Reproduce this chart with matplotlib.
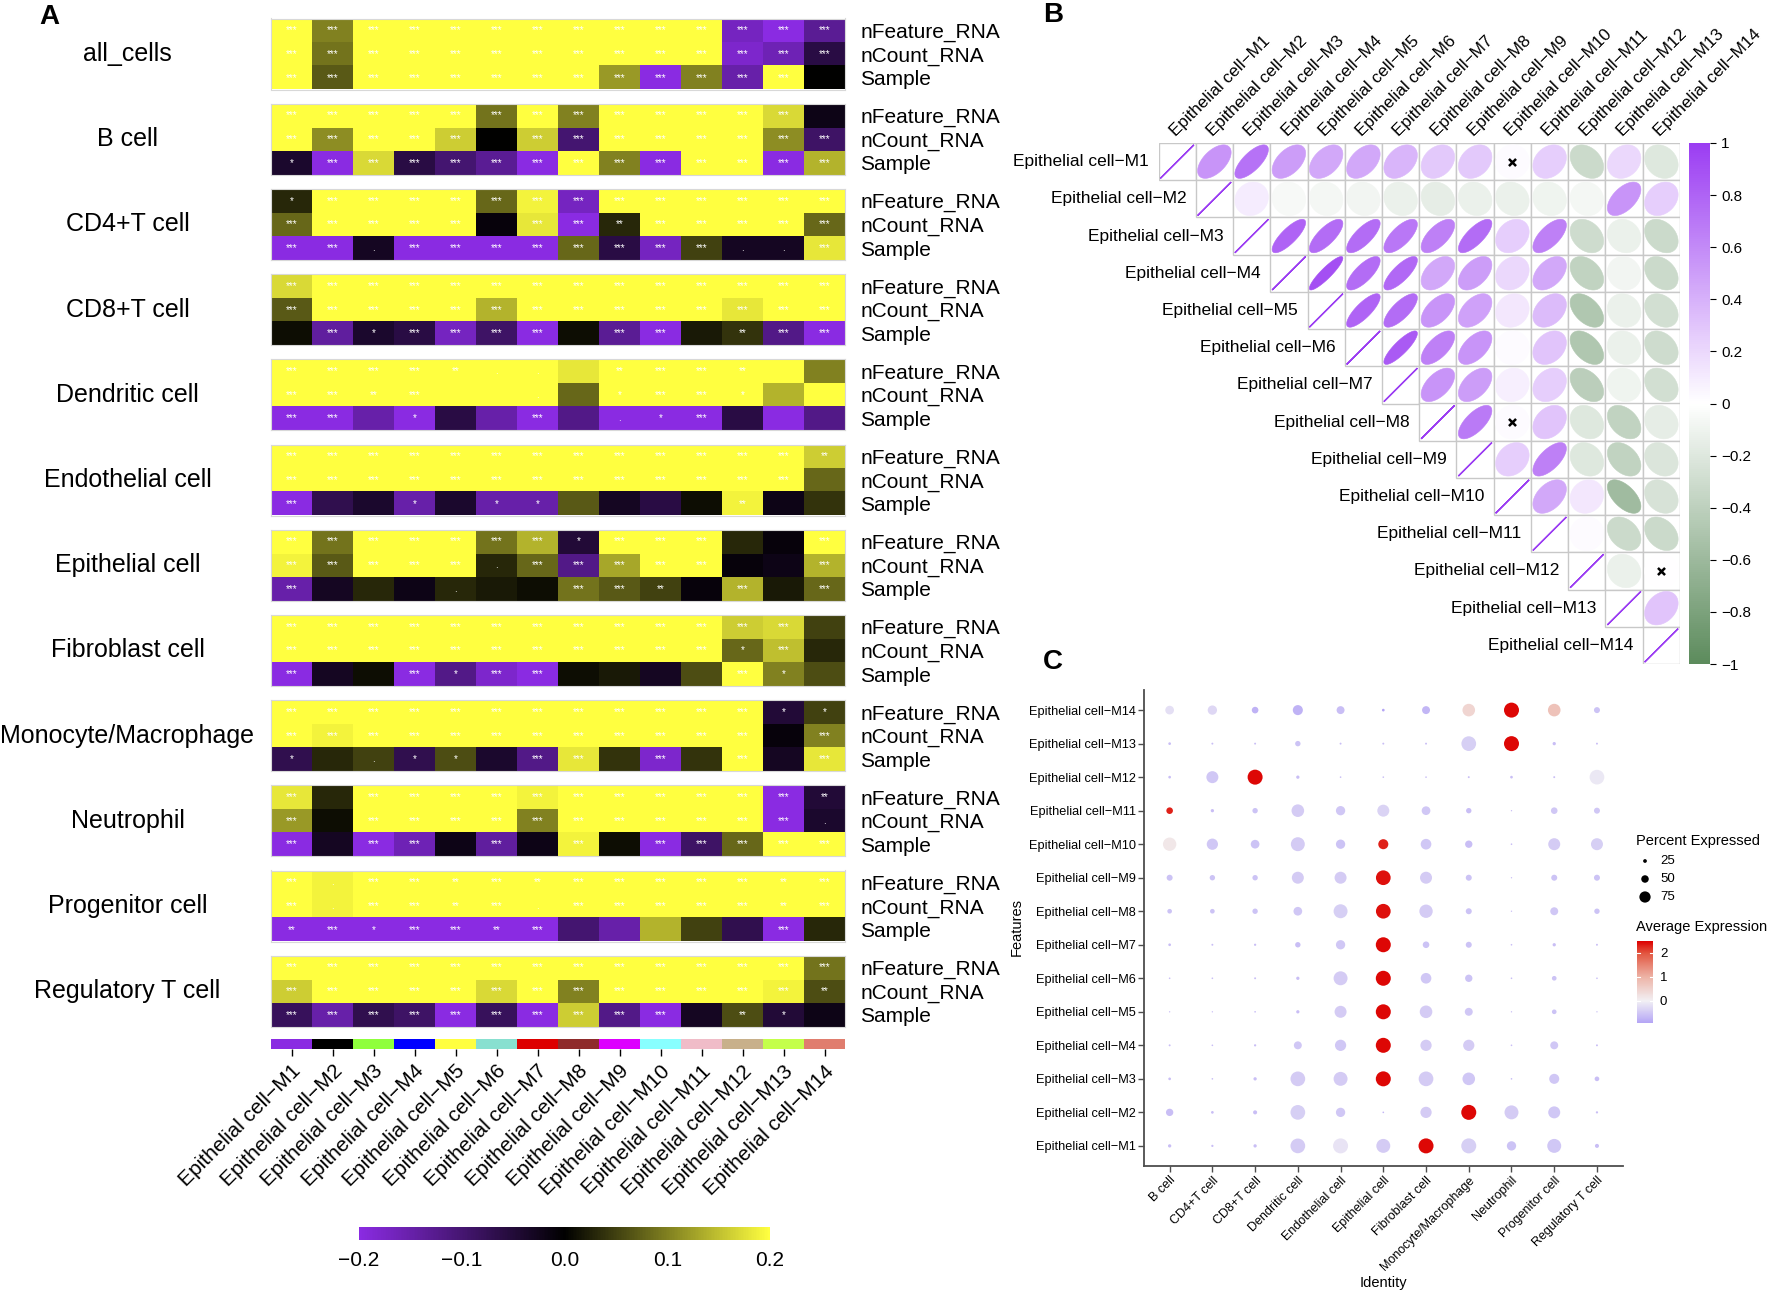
import numpy as np
import matplotlib
matplotlib.use('Agg')
import matplotlib.pyplot as plt
import matplotlib.colors as mcolors
import matplotlib.colorbar as mcb
from matplotlib.colors import LinearSegmentedColormap, Normalize
from matplotlib.patches import Polygon, Rectangle

plt.rcParams['font.family'] = ['Liberation Sans', 'DejaVu Sans']

W, H = 1772, 1294

# ---------------- data ----------------
modules = ['Epithelial cell\u2212M%d' % i for i in range(1, 15)]
rows_a = ['nFeature_RNA', 'nCount_RNA', 'Sample']
group_names = ['all_cells', 'B cell', 'CD4+T cell', 'CD8+T cell', 'Dendritic cell',
               'Endothelial cell', 'Epithelial cell', 'Fibroblast cell',
               'Monocyte/Macrophage', 'Neutrophil', 'Progenitor cell', 'Regulatory T cell']

# panel A: correlation values per group (nFeature, nCount, Sample) x 14 modules
a_all = [[0.2, 0.10, 0.2, 0.2, 0.2, 0.2, 0.2, 0.2, 0.2, 0.2, 0.2, -0.17, -0.2, -0.13],
         [0.2, 0.09, 0.2, 0.2, 0.2, 0.2, 0.2, 0.2, 0.2, 0.2, 0.2, -0.18, -0.16, -0.06],
         [0.2, 0.07, 0.2, 0.2, 0.2, 0.2, 0.2, 0.2, 0.12, -0.2, 0.10, -0.15, 0.2, 0.0]]
a_b = [[0.2, 0.2, 0.2, 0.2, 0.2, 0.09, 0.2, 0.10, 0.2, 0.2, 0.2, 0.2, 0.17, -0.02],
       [0.2, 0.11, 0.2, 0.2, 0.16, 0.0, 0.16, -0.10, 0.2, 0.2, 0.2, 0.2, 0.11, -0.09],
       [-0.04, -0.2, 0.17, -0.06, -0.10, -0.13, -0.2, 0.2, 0.10, -0.2, 0.2, 0.2, -0.2, 0.14]]
a_cd4 = [[0.03, 0.2, 0.2, 0.2, 0.2, 0.08, 0.19, -0.17, 0.2, 0.2, 0.2, 0.2, 0.2, 0.2],
         [0.08, 0.2, 0.2, 0.2, 0.2, -0.01, 0.18, -0.2, 0.03, 0.2, 0.2, 0.2, 0.2, 0.08],
         [-0.2, -0.2, -0.03, -0.2, -0.2, -0.2, -0.2, 0.08, -0.06, -0.17, 0.05, -0.03, -0.03, 0.18]]
a_cd8 = [[0.17, 0.2, 0.2, 0.2, 0.2, 0.2, 0.2, 0.2, 0.2, 0.2, 0.2, 0.2, 0.2, 0.2],
         [0.07, 0.2, 0.2, 0.2, 0.2, 0.14, 0.2, 0.2, 0.2, 0.2, 0.2, 0.18, 0.2, 0.2],
         [0.01, -0.14, -0.04, -0.06, -0.17, -0.09, -0.2, 0.01, -0.13, -0.2, 0.02, 0.04, -0.12, -0.2]]
a_dc = [[0.2, 0.2, 0.2, 0.2, 0.2, 0.2, 0.2, 0.18, 0.2, 0.2, 0.2, 0.2, 0.2, 0.10],
        [0.2, 0.2, 0.2, 0.2, 0.2, 0.2, 0.2, 0.08, 0.2, 0.2, 0.2, 0.2, 0.14, 0.2],
        [-0.2, -0.2, -0.15, -0.2, -0.06, -0.15, -0.2, -0.12, -0.2, -0.2, -0.2, -0.06, -0.2, -0.12]]
a_endo = [[0.2, 0.2, 0.2, 0.2, 0.2, 0.2, 0.2, 0.2, 0.2, 0.2, 0.2, 0.2, 0.2, 0.16],
          [0.2, 0.2, 0.2, 0.2, 0.2, 0.2, 0.2, 0.2, 0.2, 0.2, 0.2, 0.2, 0.2, 0.08],
          [-0.2, -0.07, -0.04, -0.15, -0.04, -0.15, -0.15, 0.07, -0.03, -0.06, 0.01, 0.19, -0.02, 0.04]]
a_epi = [[0.2, 0.09, 0.2, 0.2, 0.2, 0.09, 0.14, -0.05, 0.2, 0.2, 0.2, 0.03, -0.01, 0.2],
         [0.19, 0.07, 0.2, 0.2, 0.2, 0.03, 0.08, -0.12, 0.13, 0.2, 0.2, -0.01, -0.02, 0.14],
         [-0.15, -0.03, 0.03, -0.02, 0.03, 0.02, 0.01, 0.09, 0.07, 0.05, -0.01, 0.14, 0.02, 0.08]]
a_fib = [[0.2, 0.2, 0.2, 0.2, 0.2, 0.2, 0.2, 0.2, 0.2, 0.2, 0.2, 0.16, 0.17, 0.05],
         [0.2, 0.2, 0.2, 0.2, 0.2, 0.2, 0.2, 0.2, 0.2, 0.2, 0.2, 0.08, 0.15, 0.03],
         [-0.2, -0.03, 0.01, -0.2, -0.12, -0.18, -0.2, 0.01, 0.02, -0.03, 0.06, 0.2, 0.10, 0.06]]
a_mono = [[0.2, 0.2, 0.2, 0.2, 0.2, 0.2, 0.2, 0.2, 0.2, 0.2, 0.2, 0.2, -0.05, 0.05],
          [0.2, 0.19, 0.2, 0.2, 0.2, 0.2, 0.2, 0.2, 0.2, 0.2, 0.2, 0.2, -0.01, 0.10],
          [-0.07, 0.03, 0.05, -0.07, 0.06, -0.04, -0.12, 0.18, 0.04, -0.18, 0.04, 0.2, -0.03, 0.18]]
a_neu = [[0.18, 0.03, 0.2, 0.2, 0.2, 0.2, 0.19, 0.2, 0.2, 0.2, 0.2, 0.2, -0.2, -0.05],
         [0.12, 0.01, 0.2, 0.2, 0.2, 0.2, 0.10, 0.2, 0.2, 0.2, 0.2, 0.2, -0.2, -0.04],
         [-0.2, -0.03, -0.2, -0.16, -0.02, -0.14, -0.02, 0.19, 0.01, -0.2, -0.09, 0.08, 0.2, 0.2]]
a_prog = [[0.2, 0.19, 0.2, 0.2, 0.2, 0.2, 0.2, 0.2, 0.2, 0.2, 0.2, 0.2, 0.2, 0.2],
          [0.2, 0.19, 0.2, 0.2, 0.2, 0.2, 0.2, 0.2, 0.2, 0.2, 0.2, 0.2, 0.2, 0.2],
          [-0.2, -0.2, -0.2, -0.2, -0.2, -0.2, -0.2, -0.1, -0.15, 0.14, 0.05, -0.07, -0.2, 0.03]]
a_treg = [[0.2, 0.2, 0.2, 0.2, 0.2, 0.2, 0.2, 0.2, 0.2, 0.2, 0.2, 0.2, 0.2, 0.09],
          [0.16, 0.2, 0.2, 0.2, 0.2, 0.17, 0.2, 0.10, 0.2, 0.2, 0.2, 0.2, 0.19, 0.06],
          [-0.08, -0.15, -0.07, -0.09, -0.2, -0.08, -0.2, 0.16, -0.12, -0.2, -0.03, 0.06, -0.05, -0.02]]

# significance codes: 3='***', 2='**', 1='*', '.'='.', '-'=none
s_all = ['33333333333333', '33333333333333', '3333333333333-']
s_b = ['3333333333333-', '33333-33333333', '13333333333333']
s_cd4 = ['13333333333333', '33333-33233333', '33.33333333..3']
s_cd8 = ['33333333333333', '33333333333333', '-313333-33-233']
s_dc = ['33332..-2332--', '3323--.-1331--', '33-1--3-.13---']
s_endo = ['33333333333332', '3333333333333-', '3--1-11----2--']
s_epi = ['33333331333--3', '33333.33333--3', '3---.--332-3-3']
s_fib = ['3333333333333-', '3333333333313-', '3--3133----31-']
s_mono = ['33333333333311', '333333333333-3', '1-.11-33-3-3-3']
s_neu = ['3-333333333332', '3-33333333333.', '3-33-3-3-33333']
s_prog = ['3.332323333323', '3.3323.3333323', '2313323-----3-']
s_treg = ['33333333333333', '33333333333332', '3333333333-21-']

anno_colors = ['#8A2BE2', '#000000', '#8FFF3C', '#0000FF', '#FFFF40', '#88E0D0', '#DD0000',
               '#8F2B2B', '#DD00FF', '#88FFFF', '#F0BCC8', '#C8B08A', '#C4FF4A', '#E07D6E']

# panel B: upper triangle of module correlation, row Mi -> columns M(i+1)..M14
corr_m1 = [0.55, 0.72, 0.5, 0.45, 0.45, 0.38, 0.28, 0.28, 0.02, 0.25, -0.32, 0.2, -0.2]
corr_m2 = [0.1, -0.05, -0.07, -0.08, -0.12, -0.15, -0.12, -0.12, -0.1, -0.07, 0.55, 0.25]
corr_m3 = [0.8, 0.75, 0.75, 0.7, 0.65, 0.75, 0.25, 0.65, -0.3, -0.12, -0.32]
corr_m4 = [0.9, 0.75, 0.78, 0.45, 0.5, 0.2, 0.45, -0.38, -0.08, -0.32]
corr_m5 = [0.8, 0.75, 0.55, 0.48, 0.12, 0.35, -0.48, -0.12, -0.28]
corr_m6 = [0.85, 0.65, 0.55, 0.02, 0.3, -0.48, -0.12, -0.3]
corr_m7 = [0.55, 0.5, 0.08, 0.25, -0.42, -0.1, -0.28]
corr_m8 = [0.68, 0.02, 0.3, -0.2, -0.38, -0.15]
corr_m9 = [0.25, 0.65, -0.2, -0.38, -0.22]
corr_m10 = [0.45, 0.12, -0.58, -0.25]
corr_m11 = [0.02, -0.32, -0.32]
corr_m12 = [-0.12, 0.0]
corr_m13 = [0.3]
insig_pairs = [(1, 10), (8, 10), (12, 14)]

# panel C: dot plot, rows M1..M14, columns = identities
identities = ['B cell', 'CD4+T cell', 'CD8+T cell', 'Dendritic cell', 'Endothelial cell',
              'Epithelial cell', 'Fibroblast cell', 'Monocyte/Macrophage', 'Neutrophil',
              'Progenitor cell', 'Regulatory T cell']
pct_expr = [
    [22, 15, 22, 98, 100, 93, 100, 100, 62, 93, 27],
    [49, 18, 27, 98, 62, 11, 75, 100, 93, 80, 15],
    [18, 11, 22, 98, 93, 100, 98, 84, 11, 67, 31],
    [13, 11, 15, 53, 75, 100, 75, 75, 11, 53, 13],
    [9, 9, 11, 22, 80, 100, 84, 53, 9, 31, 9],
    [11, 11, 13, 22, 93, 100, 71, 49, 11, 31, 11],
    [18, 13, 15, 36, 62, 100, 44, 40, 11, 22, 13],
    [31, 31, 36, 58, 93, 98, 89, 40, 9, 53, 36],
    [40, 36, 36, 80, 80, 98, 80, 40, 9, 40, 40],
    [89, 75, 58, 93, 62, 67, 71, 49, 11, 80, 80],
    [44, 22, 36, 84, 62, 80, 58, 36, 9, 44, 40],
    [18, 80, 100, 22, 11, 11, 11, 13, 18, 13, 98],
    [18, 13, 13, 36, 13, 13, 13, 98, 100, 22, 13],
    [58, 62, 44, 67, 53, 18, 53, 84, 100, 84, 40],
]
avg_expr = [
    [-0.6, -0.6, -0.6, -0.45, -0.15, -0.45, 2.45, -0.4, -0.55, -0.5, -0.6],
    [-0.6, -0.6, -0.6, -0.4, -0.5, -0.7, -0.45, 2.45, -0.45, -0.5, -0.6],
    [-0.6, -0.6, -0.6, -0.45, -0.45, 2.45, -0.45, -0.5, -0.6, -0.5, -0.6],
    [-0.6, -0.6, -0.6, -0.5, -0.5, 2.45, -0.45, -0.45, -0.6, -0.5, -0.6],
    [-0.6, -0.6, -0.6, -0.6, -0.45, 2.45, -0.45, -0.5, -0.6, -0.55, -0.6],
    [-0.6, -0.6, -0.6, -0.6, -0.45, 2.45, -0.5, -0.55, -0.6, -0.55, -0.6],
    [-0.6, -0.6, -0.6, -0.6, -0.5, 2.45, -0.55, -0.55, -0.6, -0.6, -0.6],
    [-0.55, -0.55, -0.55, -0.5, -0.4, 2.4, -0.45, -0.55, -0.6, -0.5, -0.55],
    [-0.55, -0.55, -0.55, -0.45, -0.45, 2.4, -0.45, -0.55, -0.6, -0.55, -0.55],
    [0.15, -0.5, -0.55, -0.45, -0.55, 2.3, -0.5, -0.6, -0.6, -0.45, -0.4],
    [2.3, -0.6, -0.55, -0.45, -0.5, -0.35, -0.5, -0.6, -0.6, -0.5, -0.5],
    [-0.6, -0.5, 2.45, -0.6, -0.6, -0.6, -0.6, -0.6, -0.6, -0.6, -0.1],
    [-0.6, -0.6, -0.6, -0.55, -0.6, -0.6, -0.6, -0.4, 2.45, -0.6, -0.6],
    [-0.2, -0.3, -0.75, -0.75, -0.6, -0.95, -0.7, 0.45, 2.45, 0.75, -0.55],
]
legend_pcts = [25, 50, 75]


def px_axes(fig, x0, y0, x1, y1):
    return fig.add_axes([x0 / W, 1 - y1 / H, (x1 - x0) / W, (y1 - y0) / H])


fig = plt.figure(figsize=(W / 100, H / 100), dpi=100)

# ---------------- panel A ----------------
cmap_a = LinearSegmentedColormap.from_list('pky', ['#8A2BE2', '#000000', '#FFFF40'])
norm_a = Normalize(-0.2, 0.2)
star_txt = {'3': '***', '2': '**', '1': '*', '.': '.', '-': ''}
group_vals = [a_all, a_b, a_cd4, a_cd8, a_dc, a_endo, a_epi, a_fib, a_mono, a_neu, a_prog, a_treg]
group_stars = [s_all, s_b, s_cd4, s_cd8, s_dc, s_endo, s_epi, s_fib, s_mono, s_neu, s_prog, s_treg]

for g, name in enumerate(group_names):
    top = 18.5 + g * 85.2
    ax = px_axes(fig, 271, top, 845, top + 71)
    ax.imshow(np.array(group_vals[g]), cmap=cmap_a, norm=norm_a, aspect='auto',
              interpolation='nearest')
    for i in range(3):
        for j in range(14):
            s = star_txt[group_stars[g][i][j]]
            if s:
                ax.text(j, i, s, color='white', fontsize=7, ha='center', va='center')
    ax.set_xticks([])
    ax.yaxis.tick_right()
    ax.set_yticks(range(3))
    ax.set_yticklabels(rows_a, fontsize=15)
    ax.tick_params(axis='y', length=0, pad=11)
    for sp in ax.spines.values():
        sp.set_color('#d8d8d8')
        sp.set_linewidth(0.8)
    fig.text(127.5 / W, 1 - (top + 35.5) / H, name, ha='center', va='center', fontsize=18)

ax_ann = px_axes(fig, 271, 1039, 845, 1049)
ax_ann.imshow(np.array([[mcolors.to_rgb(c) for c in anno_colors]]), aspect='auto',
              interpolation='nearest')
ax_ann.set_yticks([])
ax_ann.set_xticks(range(14))
ax_ann.set_xticklabels(modules, rotation=45, ha='right', rotation_mode='anchor', fontsize=15)
ax_ann.tick_params(axis='x', length=5, width=1, pad=4)
for sp in ax_ann.spines.values():
    sp.set_visible(False)

cax_a = px_axes(fig, 359, 1227, 770, 1240)
cb_a = mcb.ColorbarBase(cax_a, cmap=cmap_a, norm=norm_a, orientation='horizontal',
                        ticks=[-0.2, -0.1, 0, 0.1, 0.2])
cb_a.set_ticklabels(['\u22120.2', '\u22120.1', '0.0', '0.1', '0.2'])
cb_a.outline.set_visible(False)
cax_a.tick_params(length=0, labelsize=15, pad=8)

# ---------------- panel B ----------------
corr_rows = [corr_m1, corr_m2, corr_m3, corr_m4, corr_m5, corr_m6, corr_m7,
             corr_m8, corr_m9, corr_m10, corr_m11, corr_m12, corr_m13]
n = len(modules)
corr = np.eye(n)
for i, r in enumerate(corr_rows):
    corr[i, i + 1:] = r

cmap_b = LinearSegmentedColormap.from_list('gwp', ['#5C8B5C', '#FFFFFF', '#9B3DF2'])
norm_b = Normalize(-1, 1)

ax_b = px_axes(fig, 1158.5, 143, 1680, 664)
ax_b.set_xlim(-0.5, n - 0.5)
ax_b.set_ylim(-0.5, n - 0.5)
ax_b.axis('off')
t = np.linspace(0, 2 * np.pi, 120)
for i in range(n):
    y = n - 1 - i
    for j in range(i, n):
        ax_b.add_patch(Rectangle((j - 0.5, y - 0.5), 1, 1, fc='white', ec='#c8c8c8', lw=1))
        r = corr[i, j]
        d = np.arccos(np.clip(r, -1, 1))
        ex = j + 0.45 * np.cos(t + d / 2)
        ey = y + 0.45 * np.cos(t - d / 2)
        col = cmap_b(norm_b(r))
        ax_b.add_patch(Polygon(np.column_stack([ex, ey]), closed=True, fc=col, ec=col,
                               lw=1.0 if i == j else 0.4))
    ax_b.text(i - 0.75, y, modules[i], ha='right', va='center', fontsize=12.5)
    ax_b.text(i + 0.02, n - 0.5 + 0.12, modules[i], rotation=45, rotation_mode='anchor',
              ha='left', va='bottom', fontsize=12.3)
for (a, b) in insig_pairs:
    ax_b.scatter([b - 1], [n - a], marker='x', s=26, linewidths=1.8, color='black', zorder=5)

cax_b = px_axes(fig, 1689, 143, 1710, 664)
cb_b = mcb.ColorbarBase(cax_b, cmap=cmap_b, norm=norm_b, ticks=np.linspace(-1, 1, 11))
cb_b.set_ticklabels(['\u22121', '\u22120.8', '\u22120.6', '\u22120.4', '\u22120.2', '0',
                     '0.2', '0.4', '0.6', '0.8', '1'])
cb_b.outline.set_visible(False)
cax_b.tick_params(length=4, width=0.8, labelsize=11, pad=4)

# ---------------- panel C ----------------
pct = np.array(pct_expr, dtype=float)
avg = np.array(avg_expr, dtype=float)
cmap_c = LinearSegmentedColormap.from_list(
    'lavred', [(0.0, '#B4A5F5'), (0.269, '#F2F0F4'), (0.561, '#EDB3A6'),
               (0.854, '#E2553F'), (1.0, '#DD0000')])
norm_c = Normalize(-0.92, 2.5)

ax_c = px_axes(fig, 1144, 690, 1622.6, 1166)
xx, yy = np.meshgrid(np.arange(len(identities)), np.arange(n))
ax_c.scatter(xx.ravel(), yy.ravel(), s=(0.108 * pct.ravel()) ** 2, c=avg.ravel(),
             cmap=cmap_c, norm=norm_c, edgecolors='none')
ax_c.set_xlim(-0.6, len(identities) - 0.4)
ax_c.set_ylim(-0.6, n - 0.4)
ax_c.set_xticks(range(len(identities)))
ax_c.set_xticklabels(identities, rotation=45, ha='right', rotation_mode='anchor', fontsize=9)
ax_c.set_yticks(range(n))
ax_c.set_yticklabels(modules, fontsize=9.2)
for side in ['top', 'right']:
    ax_c.spines[side].set_visible(False)
for side in ['left', 'bottom']:
    ax_c.spines[side].set_color('#4d4d4d')
    ax_c.spines[side].set_linewidth(1.3)
ax_c.tick_params(length=4, width=1, color='#4d4d4d', pad=2)
fig.text(1383 / W, 1 - 1283 / H, 'Identity', ha='center', va='center', fontsize=10.5)
fig.text(1017 / W, 1 - 927 / H, 'Features', ha='center', va='center', fontsize=10.5,
         rotation=90)

# legend: dot sizes
fig.text(1636 / W, 1 - 841 / H, 'Percent Expressed', ha='left', va='center', fontsize=10.5)
ax_l = px_axes(fig, 1636, 852, 1656, 906)
ax_l.set_xlim(0, 1)
ax_l.set_ylim(len(legend_pcts) - 0.5, -0.5)
ax_l.axis('off')
ax_l.scatter([0.45] * len(legend_pcts), range(len(legend_pcts)),
             s=[(0.108 * p) ** 2 for p in legend_pcts], color='black', edgecolors='none')
for k, p in enumerate(legend_pcts):
    ax_l.text(1.2, k, str(p), ha='left', va='center', fontsize=9.5)

fig.text(1636 / W, 1 - 927 / H, 'Average Expression', ha='left', va='center', fontsize=10.5)
cax_c = px_axes(fig, 1637, 941, 1653, 1023)
cb_c = mcb.ColorbarBase(cax_c, cmap=cmap_c, norm=norm_c, ticks=[0, 1, 2])
cb_c.outline.set_visible(False)
cax_c.tick_params(length=0, labelsize=9.5, pad=5)
for v in [0, 1, 2]:
    cax_c.axhline(v, xmin=0, xmax=0.2, color='white', lw=0.8)
    cax_c.axhline(v, xmin=0.8, xmax=1, color='white', lw=0.8)

# panel letters
fig.text(49 / W, 1 - 17 / H, 'A', ha='center', va='center', fontsize=20, fontweight='bold')
fig.text(1053 / W, 1 - 15 / H, 'B', ha='center', va='center', fontsize=20, fontweight='bold')
fig.text(1053 / W, 1 - 662 / H, 'C', ha='center', va='center', fontsize=20, fontweight='bold')

fig.savefig('out.png', dpi=100, facecolor='white')
